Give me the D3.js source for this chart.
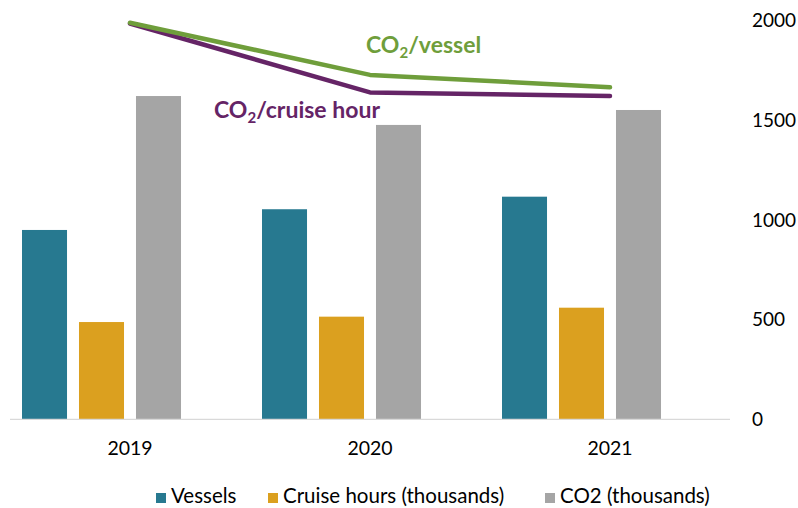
<!DOCTYPE html>
<html><head><meta charset="utf-8">
<script src="https://cdn.jsdelivr.net/npm/d3@7"></script>
<style>body{margin:0;background:#fff}svg{display:block}</style>
</head><body>
<svg id="c" width="798" height="508"></svg>
<script>
const years = ["2019", "2020", "2021"];
const vessels = [950, 1054, 1117];
const cruiseHours = [488, 515, 560];
const co2 = [1622, 1477, 1552];
const co2PerVessel = [1990, 1728, 1666];
const co2PerCruiseHour = [1986, 1640, 1622];
const yTicks = [0, 500, 1000, 1500, 2000];
const seriesNames = ["Vessels", "Cruise hours (thousands)", "CO2 (thousands)"];
const seriesColors = ["#277990", "#DBA01F", "#A5A5A5"];

const svg = d3.select("#c");
const font = "Lato, 'Open Sans', sans-serif";
const x = d3.scaleBand().domain(years).range([10, 730]).padding(0);
const sub = d3.scaleBand().domain(d3.range(4)).range([12, x.bandwidth() - 12]).paddingInner(0.21).paddingOuter(0);
const y = d3.scaleLinear().domain([0, 2000]).range([419.3, 20.7]);

const seriesData = [vessels, cruiseHours, co2];

// bars
seriesData.forEach((vals, si) => {
  svg.append("g").selectAll("rect").data(vals).join("rect")
    .attr("x", (d, i) => x(years[i]) + sub(si))
    .attr("y", d => y(d))
    .attr("width", sub.bandwidth())
    .attr("height", d => y(0) - y(d))
    .attr("fill", seriesColors[si]);
});

// baseline
svg.append("line").attr("x1", 10).attr("x2", 730).attr("y1", y(0)).attr("y2", y(0))
  .attr("stroke", "#d9d9d9").attr("stroke-width", 1.2);

// right axis
const axis = d3.axisRight(y).tickValues(yTicks).tickSize(0).tickPadding(0).tickFormat(d3.format("d"));
const ga = svg.append("g").attr("transform", "translate(752,0)").call(axis);
ga.select(".domain").remove();
ga.selectAll("text").attr("font-family", font).attr("font-size", 19).attr("fill", "#000");

// x labels
const gx = svg.append("g").attr("transform", `translate(0,${y(0)})`)
  .call(d3.axisBottom(x).tickSize(0).tickPadding(22));
gx.select(".domain").remove();
gx.selectAll("text").attr("font-family", font).attr("font-size", 19.5).attr("fill", "#000");

// lines
const line = d3.line().x((d, i) => x(years[i]) + x.bandwidth() / 2).y(d => y(d));
svg.append("path").datum(co2PerCruiseHour).attr("d", line).attr("fill", "none")
  .attr("stroke", "#652466").attr("stroke-width", 4.5).attr("stroke-linecap", "round").attr("stroke-linejoin", "round");
svg.append("path").datum(co2PerVessel).attr("d", line).attr("fill", "none")
  .attr("stroke", "#6F9E3B").attr("stroke-width", 4.5).attr("stroke-linecap", "round").attr("stroke-linejoin", "round");

// line labels
function co2Label(xp, yp, rest, color) {
  const t = svg.append("text").attr("x", xp).attr("y", yp).attr("font-family", font)
    .attr("font-weight", 700).attr("font-size", 23).attr("fill", color);
  t.append("tspan").text("CO");
  t.append("tspan").attr("font-size", 15).attr("dy", 5).text("2");
  t.append("tspan").attr("dy", -5).text(rest);
}
co2Label(366, 53, "/vessel", "#6F9E3B");
co2Label(214, 118, "/cruise hour", "#652466");

// legend
const legend = [[156, 0], [268, 1], [545, 2]];
legend.forEach(([lx, i]) => {
  svg.append("rect").attr("x", lx).attr("y", 493).attr("width", 10).attr("height", 10).attr("fill", seriesColors[i]);
  svg.append("text").attr("x", lx + 15).attr("y", 503).attr("font-family", font).attr("font-size", 20.5)
    .attr("fill", "#000").text(seriesNames[i]);
});
</script>
</body></html>
